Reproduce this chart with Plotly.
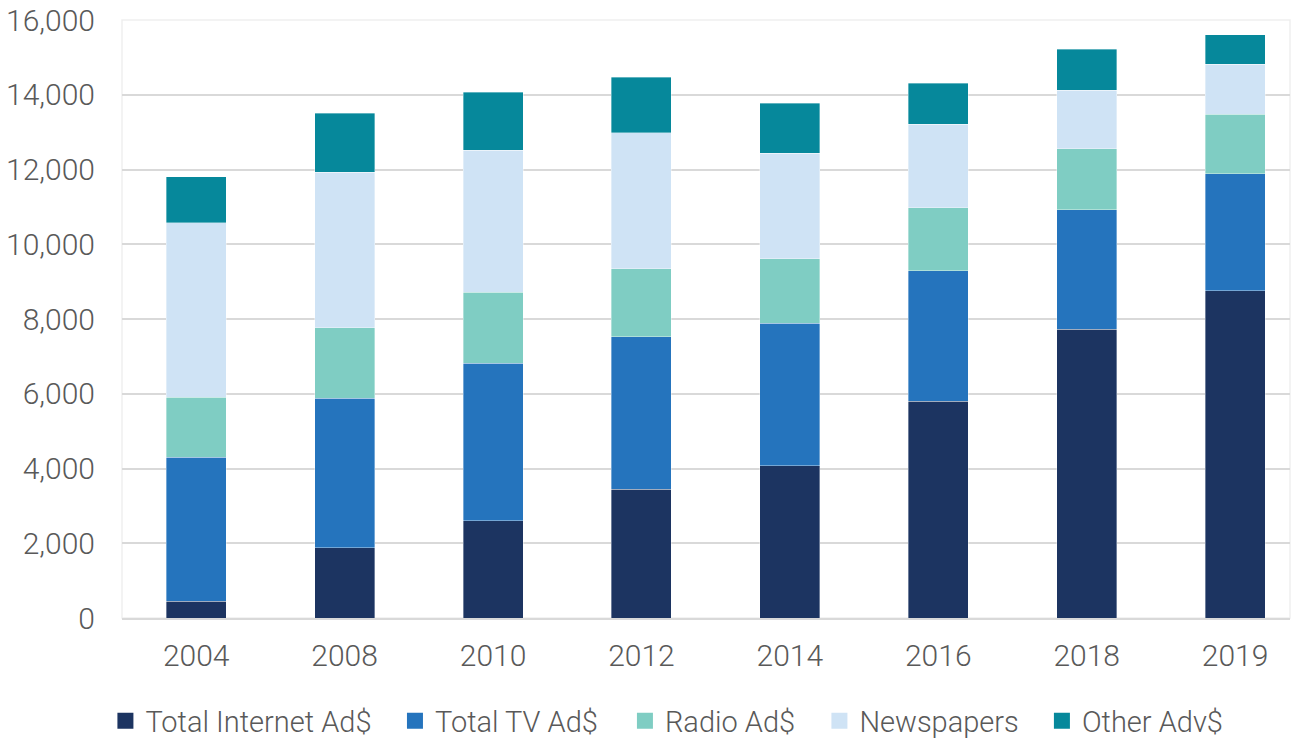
import plotly.graph_objects as go

years = ["2004", "2008", "2010", "2012", "2014", "2016", "2018", "2019"]
internet = [450, 1880, 2600, 3440, 4080, 5800, 7730, 8750]
tv = [3850, 4000, 4220, 4080, 3810, 3490, 3190, 3140]
radio = [1600, 1880, 1900, 1820, 1720, 1690, 1640, 1590]
newspapers = [4680, 4160, 3790, 3650, 2820, 2230, 1560, 1340]
other = [1230, 1580, 1560, 1480, 1340, 1100, 1100, 780]

series = [
    ("Total Internet Ad$", internet, "#1c3461"),
    ("Total TV Ad$", tv, "#2574bd"),
    ("Radio Ad$", radio, "#7fcdc3"),
    ("Newspapers", newspapers, "#cfe3f5"),
    ("Other Adv$", other, "#06889b"),
]
legend_x = [-0.0142, 0.2337, 0.4306, 0.5971, 0.7876]

fig = go.Figure()
for name, vals, col in series:
    fig.add_trace(go.Bar(x=years, y=vals, name=name, showlegend=False,
                         marker=dict(color=col, line=dict(width=0.6, color="rgba(255,255,255,0.6)"))))

# legend-only entries (square keys), one legend per entry to match spacing
for i, (name, vals, col) in enumerate(series):
    lg = "legend" if i == 0 else f"legend{i + 1}"
    fig.add_trace(go.Scatter(x=[None], y=[None], mode="markers", name=name, legend=lg,
                             marker=dict(symbol="square", size=16, color=col, line=dict(width=0)),
                             showlegend=True, hoverinfo="skip"))

font = dict(family="Roboto", size=30, color="#595959", weight=300)
lfont = dict(family="Roboto", size=29, color="#595959", weight=300)

legend_common = dict(orientation="h", xanchor="left", y=-0.172, yanchor="middle",
                     font=lfont, itemwidth=30, bgcolor="rgba(0,0,0,0)", itemsizing="trace")
layout_legends = {}
for i, lx in enumerate(legend_x):
    key = "legend" if i == 0 else f"legend{i + 1}"
    layout_legends[key] = dict(legend_common, x=lx)

fig.update_layout(
    barmode="stack",
    bargap=0.596,
    width=1301, height=738,
    margin=dict(l=122, r=11, t=20, b=120, autoexpand=False),
    plot_bgcolor="white", paper_bgcolor="white",
    font=font,
    showlegend=True,
    xaxis=dict(showline=True, linecolor="#d9d9d9", linewidth=2, mirror=False, tickfont=font, ticks="",
               ticklabelstandoff=10, range=[-0.5, 7.37]),
    yaxis=dict(range=[0, 16000], dtick=2000, tickformat=",", gridcolor="#d9d9d9", gridwidth=2,
               zeroline=False, showline=False, tickfont=font, ticklabelstandoff=26),
    **layout_legends,
)
fig.add_shape(type="rect", xref="paper", yref="paper", x0=0, x1=1, y0=0, y1=1,
              line=dict(color="#efefef", width=1.5), layer="below")
fig.write_html("out.html", post_script="document.body.style.margin='0';",
               config={"displayModeBar": False})
